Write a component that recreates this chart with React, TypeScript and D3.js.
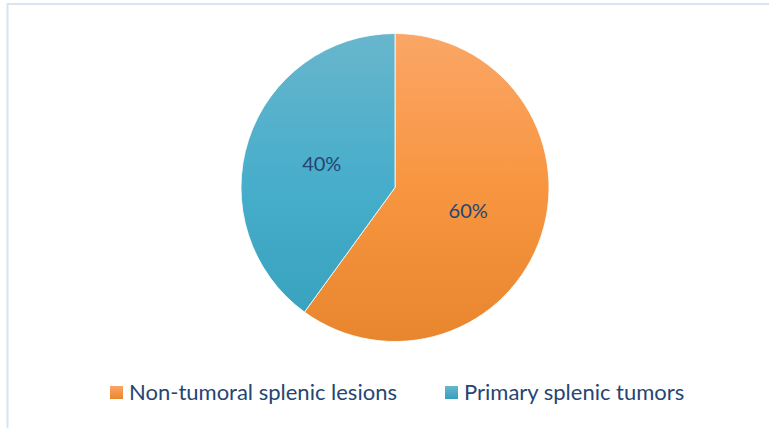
import { useEffect, useRef } from 'react';
import * as d3 from 'd3';

const categories = ['Non-tumoral splenic lesions', 'Primary splenic tumors'];
const values = [60, 40];
const colors = [
  { top: '#faa666', mid: '#f89540', bottom: '#e8862e' },
  { top: '#68b6cd', mid: '#46adca', bottom: '#36a0bd' },
];

export default function App() {
  const svgRef = useRef<SVGSVGElement>(null);

  useEffect(() => {
    if (!svgRef.current) return;

    const width = 769;
    const height = 428;
    const cx = 395;
    const cy = 187.5;
    const r = 154;

    const svg = d3.select(svgRef.current)
      .attr('width', width)
      .attr('height', height)
      .attr('viewBox', `0 0 ${width} ${height}`);

    svg.selectAll('*').remove();

    // gradients, lighter at the top
    const defs = svg.append('defs');
    colors.forEach((c, i) => {
      const g = defs.append('linearGradient')
        .attr('id', `grad${i}`)
        .attr('gradientUnits', 'userSpaceOnUse')
        .attr('x1', 0).attr('y1', -r)
        .attr('x2', 0).attr('y2', r);
      g.append('stop').attr('offset', '0%').attr('stop-color', c.top);
      g.append('stop').attr('offset', '50%').attr('stop-color', c.mid);
      g.append('stop').attr('offset', '100%').attr('stop-color', c.bottom);

      const lg = defs.append('linearGradient')
        .attr('id', `lgrad${i}`)
        .attr('x1', 0).attr('y1', 0)
        .attr('x2', 0).attr('y2', 1);
      lg.append('stop').attr('offset', '0%').attr('stop-color', c.top);
      lg.append('stop').attr('offset', '100%').attr('stop-color', c.bottom);
    });

    svg.append('rect')
      .attr('width', width)
      .attr('height', height)
      .attr('fill', '#fff');

    // chart frame
    svg.append('rect')
      .attr('x', 7.5)
      .attr('y', 4)
      .attr('width', width + 20)
      .attr('height', height + 20)
      .attr('fill', 'none')
      .attr('stroke', '#dae4f0')
      .attr('stroke-width', 2);

    const data = categories.map((name, i) => ({ name, value: values[i], i }));

    const pie = d3.pie<typeof data[number]>()
      .value(d => d.value)
      .sort(null);

    const arc = d3.arc<d3.PieArcDatum<typeof data[number]>>()
      .innerRadius(0)
      .outerRadius(r);

    const g = svg.append('g').attr('transform', `translate(${cx},${cy})`);
    const arcs = pie(data);

    g.selectAll('path')
      .data(arcs)
      .join('path')
      .attr('d', arc)
      .attr('fill', d => `url(#grad${d.data.i})`)
      .attr('stroke', '#fff')
      .attr('stroke-width', 0.8);

    const total = d3.sum(values);
    g.selectAll('text')
      .data(arcs)
      .join('text')
      .attr('x', d => arc.centroid(d)[0])
      .attr('y', d => arc.centroid(d)[1])
      .attr('dy', '0.35em')
      .attr('text-anchor', 'middle')
      .attr('fill', '#254573')
      .style('font-family', 'Lato, Carlito, sans-serif')
      .style('font-size', '20px')
      .text(d => `${Math.round((d.data.value / total) * 100)}%`);

    // legend
    const legendX = [110, 445];
    const legend = svg.append('g');
    data.forEach((d, i) => {
      legend.append('rect')
        .attr('x', legendX[i])
        .attr('y', 386)
        .attr('width', 13)
        .attr('height', 13)
        .attr('fill', `url(#lgrad${i})`);
      legend.append('text')
        .attr('x', legendX[i] + 19)
        .attr('y', 400)
        .attr('fill', '#254573')
        .style('font-family', 'Lato, Carlito, sans-serif')
        .style('font-size', '22px')
        .text(d.name);
    });
  }, []);

  return (
    <svg ref={svgRef} style={{ position: 'absolute', left: 0, top: 0, display: 'block' }} />
  );
}
